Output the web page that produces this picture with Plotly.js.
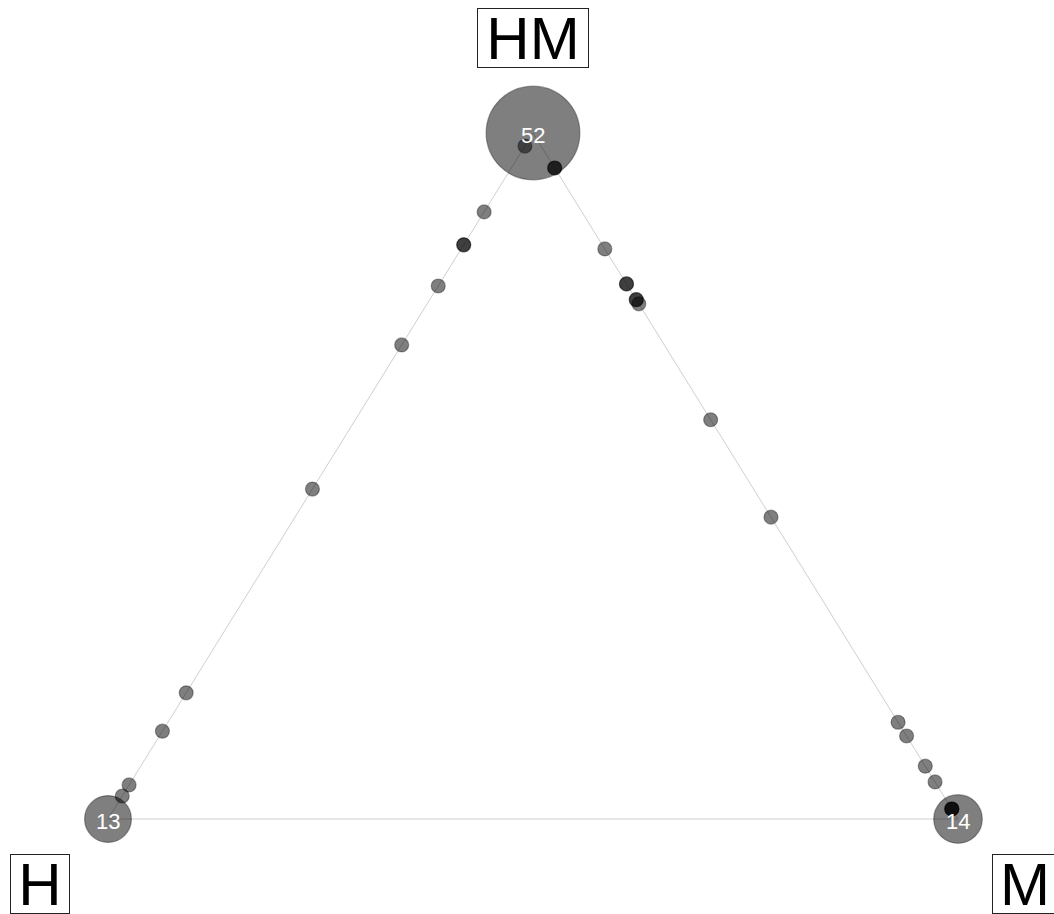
<!DOCTYPE html>
<html>
<head>
<meta charset="utf-8">
<script src="https://cdn.plot.ly/plotly-3.0.1.min.js"></script>
<style>html,body{margin:0;padding:0;background:#fff;} #chart{width:1054px;height:914px;}</style>
</head>
<body>
<div id="chart"></div>
<script>
// Vertex categories and counts of items sitting exactly at each vertex
const vertexLabels = ['H', 'M', 'HM'];
const vertexCounts = [13, 14, 52];

// Points on the H–HM edge: share of HM (0 = at H, 1 = at HM)
const edgeH_HM = [0.981, 0.885, 0.837, 0.837, 0.777, 0.691, 0.481, 0.184, 0.128, 0.0496, 0.0335];
// Points on the M–HM edge: share of HM (0 = at M, 1 = at HM)
const edgeM_HM = [0.949, 0.949, 0.831, 0.780, 0.780, 0.757, 0.757, 0.751, 0.582, 0.440, 0.141, 0.121, 0.077, 0.054, 0.0146, 0.0146, 0.0146];

// Triangle geometry (unit space): H bottom-left, M bottom-right, HM top
const V = { H: [0, 0], M: [1, 0], HM: [0.5, 1] };
function along(a, b, t) { return [a[0] + (b[0] - a[0]) * t, a[1] + (b[1] - a[1]) * t]; }

const px = [], py = [];
edgeH_HM.forEach(t => { const p = along(V.H, V.HM, t); px.push(p[0]); py.push(p[1]); });
edgeM_HM.forEach(t => { const p = along(V.M, V.HM, t); px.push(p[0]); py.push(p[1]); });

const traces = [
  {
    x: [V.H[0], V.M[0], V.HM[0], V.H[0]],
    y: [V.H[1], V.M[1], V.HM[1], V.H[1]],
    mode: 'lines', type: 'scatter',
    line: { color: '#cfcfcf', width: 1 },
    hoverinfo: 'skip'
  },
  {
    x: px, y: py, mode: 'markers', type: 'scatter',
    marker: { size: 14, opacity: 1, color: 'rgba(0,0,0,0.5)', line: { color: 'rgba(0,0,0,0.35)', width: 1.2 } },
    hoverinfo: 'skip'
  },
  {
    x: vertexLabels.map(k => V[k][0]),
    y: vertexLabels.map(k => V[k][1]),
    mode: 'markers', type: 'scatter',
    marker: { size: vertexCounts.map(c => Math.sqrt(c) * 13), opacity: 1, color: 'rgba(0,0,0,0.5)', line: { color: 'rgba(0,0,0,0.35)', width: 1.2 } },
    hoverinfo: 'skip'
  }
];

const countFont = { family: 'Liberation Sans, Arial, sans-serif', size: 22, color: '#ffffff' };
const countNotes = vertexLabels.map((k, i) => ({
  x: V[k][0], y: V[k][1], xref: 'x', yref: 'y', text: String(vertexCounts[i]),
  showarrow: false, font: countFont, yshift: -2
}));

const labelFont = { family: 'Liberation Sans, Arial, sans-serif', size: 60, color: '#000' };
const labelNotes = [
  { x: 0.5, y: (819 - 38) / 686, text: 'HM', width: 110, height: 58 },
  { x: (40 - 108) / 850, y: (819 - 883.5) / 686, text: 'H', width: 58, height: 58 },
  { x: (1025 - 108) / 850, y: (819 - 883.5) / 686, text: 'M', width: 64, height: 58 }
].map(a => Object.assign({
  xref: 'x', yref: 'y', showarrow: false, font: labelFont,
  bordercolor: '#222', borderwidth: 1, borderpad: 0, bgcolor: '#fff'
}, a));

const layout = {
  width: 1054, height: 914,
  margin: { l: 0, r: 0, t: 0, b: 0 },
  paper_bgcolor: '#fff', plot_bgcolor: '#fff',
  showlegend: false,
  xaxis: { range: [-108 / 850, 946 / 850], visible: false, fixedrange: true },
  yaxis: { range: [-95 / 686, 819 / 686], visible: false, fixedrange: true },
  annotations: countNotes.concat(labelNotes)
};

Plotly.newPlot('chart', traces, layout, { displayModeBar: false, staticPlot: true });
</script>
</body>
</html>
